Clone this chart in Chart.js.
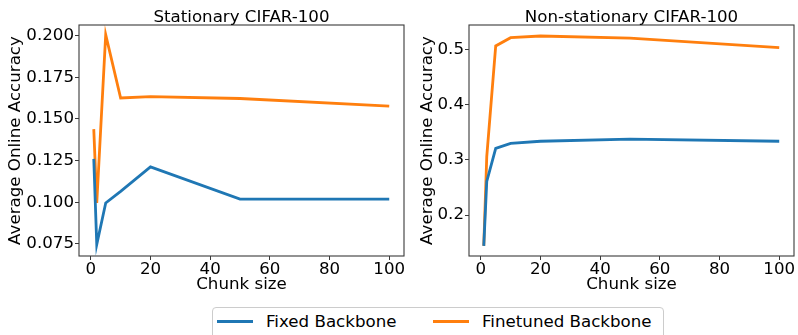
<!DOCTYPE html>
<html lang="en">
<head>
<meta charset="UTF-8">
<title>CIFAR-100 Chunk size</title>
<style>
body { margin: 0; background: #fff; font-family: 'DejaVu Sans', sans-serif; }
#page { position: relative; width: 798px; height: 335px; overflow: hidden; }
#leftWrap { position: absolute; left: 0; top: 0; width: 420px; height: 300px; }
#rightWrap { position: absolute; left: 400px; top: 0; width: 398px; height: 300px; }
#legend { position: absolute; left: 212px; top: 307px; width: 450px; height: 40px; border: 1px solid #ccc; border-radius: 4px; background: #fff; }
.item { position: absolute; top: 0; height: 27px; line-height: 27px; font-size: 16.67px; color: #000; }
.swatch { position: absolute; top: 12px; width: 36px; height: 3px; }
</style>
</head>
<body>
<div id="page">
  <div id="leftWrap"><canvas id="leftChart"></canvas></div>
  <div id="rightWrap"><canvas id="rightChart"></canvas></div>
  <div id="legend">
    <span class="swatch" style="left:4px;background:#1f77b4"></span>
    <span class="item" style="left:53px">Fixed Backbone</span>
    <span class="swatch" style="left:220px;background:#ff7f0e"></span>
    <span class="item" style="left:269px">Finetuned Backbone</span>
  </div>
</div>

<script src="https://cdn.jsdelivr.net/npm/chart.js"></script>
<script>
const chunkSizes = [1, 2, 5, 10, 20, 50, 100];

const statFixed = [0.126, 0.0746, 0.0995, 0.1065, 0.1212, 0.1018, 0.1018];
const statFinetuned = [0.1438, 0.0995, 0.2005, 0.1625, 0.1633, 0.1622, 0.1576];

const nonstatFixed = [0.144, 0.261, 0.321, 0.330, 0.334, 0.338, 0.334];
const nonstatFinetuned = [0.144, 0.306, 0.507, 0.522, 0.525, 0.521, 0.504];

const xTicks = [0, 20, 40, 60, 80, 100];
const statYTicks = [0.075, 0.100, 0.125, 0.150, 0.175, 0.200];
const nonstatYTicks = [0.2, 0.3, 0.4, 0.5];

const FONT = { family: 'DejaVu Sans', size: 16.67 };
const BLUE = '#1f77b4';
const ORANGE = '#ff7f0e';

// spines + title drawn around the chart area, like matplotlib axes
const frame = {
    id: 'frame',
    afterDraw(chart, args, opts) {
        const { ctx, chartArea: a } = chart;
        ctx.save();
        ctx.strokeStyle = '#3a3a3a';
        ctx.lineWidth = 1.1;
        ctx.strokeRect(a.left, a.top, a.right - a.left, a.bottom - a.top);
        ctx.fillStyle = '#000';
        ctx.font = `${FONT.size}px "${FONT.family}"`;
        ctx.textAlign = 'center';
        ctx.textBaseline = 'alphabetic';
        ctx.fillText(opts.text, (a.left + a.right) / 2, 22);
        ctx.restore();
    }
};

function makeChart(id, title, fixed, finetuned, yTicks, yMin, yMax, decimals, yWidth, padRight, yTitlePad) {
    const points = arr => chunkSizes.map((x, i) => ({ x: x, y: arr[i] }));
    return new Chart(document.getElementById(id), {
        type: 'line',
        data: {
            datasets: [
                { label: 'Fixed Backbone', data: points(fixed), borderColor: BLUE, borderWidth: 2.8, pointRadius: 0, tension: 0 },
                { label: 'Finetuned Backbone', data: points(finetuned), borderColor: ORANGE, borderWidth: 2.8, pointRadius: 0, tension: 0 }
            ]
        },
        options: {
            responsive: true,
            maintainAspectRatio: false,
            animation: false,
            layout: { padding: { top: 25, right: padRight, left: 0, bottom: 0 } },
            plugins: {
                legend: { display: false },
                tooltip: { enabled: false },
                frame: { text: title }
            },
            scales: {
                x: {
                    type: 'linear',
                    min: -3.95,
                    max: 104.95,
                    afterBuildTicks: s => { s.ticks = xTicks.map(v => ({ value: v })); },
                    afterFit: s => { s.height = 44; },
                    border: { display: false },
                    grid: { drawOnChartArea: false, tickLength: 4, color: '#3a3a3a' },
                    ticks: { color: '#000', font: FONT, padding: 0, maxRotation: 0, callback: v => v },
                    title: { display: true, text: 'Chunk size', color: '#000', font: FONT, padding: { top: 0, bottom: 5 } }
                },
                y: {
                    min: yMin,
                    max: yMax,
                    afterBuildTicks: s => { s.ticks = yTicks.map(v => ({ value: v })); },
                    afterFit: s => { s.width = yWidth; },
                    border: { display: false },
                    grid: { drawOnChartArea: false, tickLength: 4, color: '#3a3a3a' },
                    ticks: { color: '#000', font: FONT, padding: 1, callback: v => v.toFixed(decimals) },
                    title: { display: true, text: 'Average Online Accuracy', color: '#000', font: FONT, padding: { top: yTitlePad, bottom: 0 } }
                }
            }
        },
        plugins: [frame]
    });
}

makeChart('leftChart', 'Stationary CIFAR-100', statFixed, statFinetuned, statYTicks, 0.0677, 0.2063, 3, 79, 16, 6);
makeChart('rightChart', 'Non-stationary CIFAR-100', nonstatFixed, nonstatFinetuned, nonstatYTicks, 0.1257, 0.545, 1, 69, 4, 18);
</script>
</body>
</html>
